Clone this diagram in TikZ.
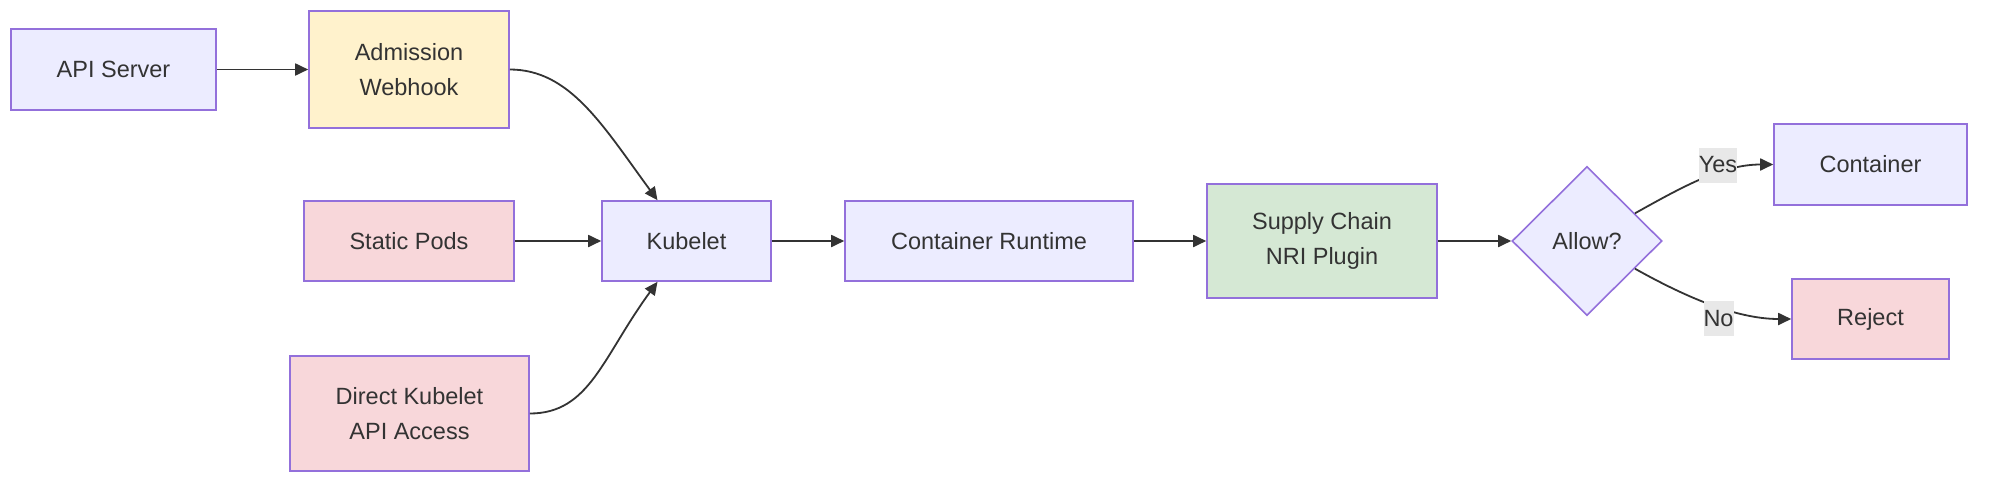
\documentclass[tikz,border=0pt]{standalone}
\usepackage{fontspec}
\setmainfont{Liberation Sans}
\usetikzlibrary{shapes.geometric,arrows.meta,calc}
\definecolor{lav}{HTML}{ECECFF}
\definecolor{bord}{HTML}{9370DB}
\definecolor{yel}{HTML}{FFF2CC}
\definecolor{pnk}{HTML}{F8D7DA}
\definecolor{grn}{HTML}{D5E8D4}
\definecolor{txt}{HTML}{333333}
\definecolor{lbl}{HTML}{E8E8E8}
\definecolor{edgec}{HTML}{333333}
\begin{document}
\begin{tikzpicture}[x=1pt,y=-1pt,
  box/.style={draw=bord,line width=1.6pt,text=txt,inner sep=0pt,align=center,
    font=\fontsize{23.5}{35}\selectfont},
  lavbox/.style={box,fill=lav},
  yelbox/.style={box,fill=yel},
  pnkbox/.style={box,fill=pnk},
  grnbox/.style={box,fill=grn},
  arr/.style={draw=edgec,line width=1.8pt,-{Triangle[length=13pt,width=12pt]}},
  elabel/.style={fill=lbl,text=txt,inner sep=0pt,minimum height=35pt,
    font=\fontsize{23.5}{35}\selectfont},
]
\useasboundingbox (0,0) rectangle (1999,490);
\node[lavbox,minimum width=205pt,minimum height=81pt] (api) at (113.5,69.5) {API Server};
\node[yelbox,minimum width=200pt,minimum height=117pt] (adm) at (409,69.5) {Admission\\Webhook};
\node[pnkbox,minimum width=210pt,minimum height=80pt] (stat) at (409,241) {Static Pods};
\node[lavbox,minimum width=169pt,minimum height=80pt] (kub) at (686.5,241) {Kubelet};
\node[pnkbox,minimum width=239pt,minimum height=115pt] (dir) at (409.5,413.5) {Direct Kubelet\\API Access};
\node[lavbox,minimum width=288pt,minimum height=80pt] (cr) at (989,241) {Container Runtime};
\node[grnbox,minimum width=230pt,minimum height=114pt] (sc) at (1322,241) {Supply Chain\\NRI Plugin};
\node[lavbox,diamond,aspect=1,minimum width=150pt,minimum height=149pt] (allow) at (1587,241) {Allow?};
\node[lavbox,minimum width=193pt,minimum height=81pt] (cont) at (1870.5,164.5) {Container};
\node[pnkbox,minimum width=157pt,minimum height=80pt] (rej) at (1870.5,319) {Reject};

\coordinate (kin) at ($(kub.north west)!0.33!(kub.north east)$);
\coordinate (kout) at ($(kub.south west)!0.33!(kub.south east)$);

\draw[arr] (api.east) -- (adm.west);
\draw[arr] (adm.east) .. controls +(60,0) and +(-55,-75) .. (kin);
\draw[arr] (stat.east) -- (kub.west);
\draw[arr] (dir.east) .. controls +(60,0) and +(-55,75) .. (kout);
\draw[arr] (kub.east) -- (cr.west);
\draw[arr] (cr.east) -- (sc.west);
\draw[arr] (sc.east) -- (allow.west);
\draw[arr] (allow.30) .. controls +(50,-28) and +(-50,0) .. (cont.west);
\draw[arr] (allow.-30) .. controls +(50,28) and +(-55,0) .. (rej.west);
\node[elabel] (yes) at (1718,165) {Yes};
\node[elabel] (no) at (1718.5,318.5) {No};
\end{tikzpicture}
\end{document}
